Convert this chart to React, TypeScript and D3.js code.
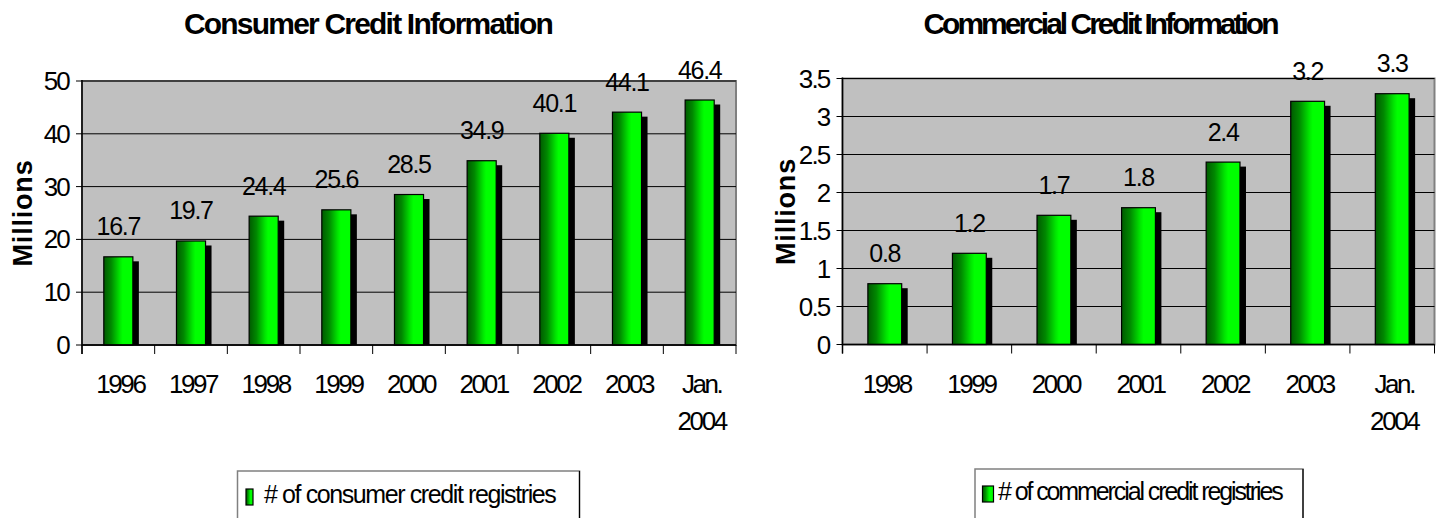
import React from "react";
import * as d3 from "d3";

const consumerCategories = ["1996", "1997", "1998", "1999", "2000", "2001", "2002", "2003", "Jan.\n2004"];
const consumerValues = [16.7, 19.7, 24.4, 25.6, 28.5, 34.9, 40.1, 44.1, 46.4];
const consumerTicks = [0, 10, 20, 30, 40, 50];

const commercialCategories = ["1998", "1999", "2000", "2001", "2002", "2003", "Jan.\n2004"];
const commercialValues = [0.8, 1.2, 1.7, 1.8, 2.4, 3.2, 3.3];
const commercialTicks = [0, 0.5, 1, 1.5, 2, 2.5, 3, 3.5];

const FONT = "Arial, 'Liberation Sans', sans-serif";

type ChartProps = {
  title: string;
  titleX: number;
  titleSpacing: number;
  categories: string[];
  values: number[];
  ticks: number[];
  left: number;
  right: number;
  top: number;
  bottom: number;
  axisLabelX: number;
  legendLabel: string;
  legendSpacing: number;
  legendBox: { x: number; y: number; w: number };
  swatch: { x: number; y: number; w: number; h: number };
  legendTextX: number;
  legendBaseline: number;
  id: string;
};

function Chart(p: ChartProps) {
  const x = d3.scaleBand<string>().domain(p.categories).range([p.left, p.right]).padding(0);
  const y = d3.scaleLinear().domain([0, p.ticks[p.ticks.length - 1]]).range([p.bottom, p.top]);
  const bw = x.bandwidth() * 0.4;
  const fmt = d3.format("");
  return (
    <g>
      <defs>
        <linearGradient id={p.id} x1="0" x2="1" y1="0" y2="0">
          <stop offset="0%" stopColor="#005a00" />
          <stop offset="25%" stopColor="#008800" />
          <stop offset="55%" stopColor="#00e600" />
          <stop offset="65%" stopColor="#00ff00" />
          <stop offset="100%" stopColor="#00ff00" />
        </linearGradient>
      </defs>
      <text x={p.titleX} y={34} textAnchor="middle" fontFamily={FONT} fontWeight="bold" fontSize={30} letterSpacing={p.titleSpacing}>
        {p.title}
      </text>
      <rect x={p.left} y={p.top} width={p.right - p.left} height={p.bottom - p.top} fill="#c0c0c0" stroke="#808080" strokeWidth={2} />
      {p.ticks.map((t) => (
        <g key={t}>
          <line x1={p.left} x2={p.right} y1={y(t)} y2={y(t)} stroke="#000" strokeWidth={1} />
          <line x1={p.left - 6} x2={p.left} y1={y(t)} y2={y(t)} stroke="#000" strokeWidth={1} />
          <text x={p.left - 13} y={y(t) + 9} textAnchor="end" fontFamily={FONT} fontSize={26} letterSpacing={-1.8}>
            {fmt(t)}
          </text>
        </g>
      ))}
      {p.categories.map((c, i) => {
        const cx = (x(c) as number) + x.bandwidth() / 2;
        const v = p.values[i];
        const bx = cx - bw / 2;
        const by = y(v);
        return (
          <g key={c}>
            <rect x={bx + 6} y={by + 4.5} width={bw} height={p.bottom - by - 4.5} fill="#000" />
            <rect x={bx} y={by} width={bw} height={p.bottom - by} fill={`url(#${p.id})`} stroke="#000" strokeWidth={1.2} />
            <text x={cx} y={by - 21.5} textAnchor="middle" fontFamily={FONT} fontSize={25} letterSpacing={-1.3}>
              {v.toFixed(1)}
            </text>
            {c.split("\n").map((line, j) => (
              <text key={j} x={cx + 2} y={393 + j * 37} textAnchor="middle" fontFamily={FONT} fontSize={26} letterSpacing={-2.4}>
                {line}
              </text>
            ))}
          </g>
        );
      })}
      {[...p.categories.map((c) => x(c) as number), p.right].map((tx, i) => (
        <line key={i} x1={tx} x2={tx} y1={p.bottom} y2={p.bottom + 9} stroke="#000" strokeWidth={1} />
      ))}
      <line x1={p.left} x2={p.left} y1={p.top - 1} y2={p.bottom + 9} stroke="#000" strokeWidth={1.5} />
      <line x1={p.left} x2={p.right} y1={p.bottom} y2={p.bottom} stroke="#000" strokeWidth={1.5} />
      <text
        transform={`translate(${p.axisLabelX},${(p.top + p.bottom) / 2}) rotate(-90)`}
        textAnchor="middle"
        fontFamily={FONT}
        fontWeight="bold"
        fontSize={27}
        letterSpacing={0.8}
      >
        Millions
      </text>
      <rect x={p.legendBox.x} y={p.legendBox.y} width={p.legendBox.w} height={80} fill="#fff" stroke="#808080" strokeWidth={1.5} />
      <line x1={p.legendBox.x + p.legendBox.w} x2={p.legendBox.x + p.legendBox.w} y1={p.legendBox.y} y2={530} stroke="#000" strokeWidth={1.2} />
      <rect x={p.swatch.x} y={p.swatch.y} width={p.swatch.w} height={p.swatch.h} fill={`url(#${p.id})`} stroke="#000" strokeWidth={1.2} />
      <text x={p.legendTextX} y={p.legendBaseline} fontFamily={FONT} fontSize={25} letterSpacing={p.legendSpacing}>
        {p.legendLabel}
      </text>
    </g>
  );
}

export default function App() {
  return (
    <svg width={1441} height={518} style={{ position: "absolute", left: 0, top: 0, background: "#fff" }}>
      <rect x={0} y={0} width={1441} height={518} fill="#fff" />
      <Chart
        id="gradA"
        title="Consumer Credit Information"
        titleX={368}
        titleSpacing={-1.8}
        categories={consumerCategories}
        values={consumerValues}
        ticks={consumerTicks}
        left={82}
        right={736}
        top={81}
        bottom={345}
        axisLabelX={32}
        legendLabel="# of consumer credit registries"
        legendSpacing={-1.4}
        legendBox={{ x: 237.5, y: 471, w: 342 }}
        swatch={{ x: 246, y: 489, w: 7, h: 16 }}
        legendTextX={264}
        legendBaseline={503}
      />
      <Chart
        id="gradB"
        title="Commercial Credit Information"
        titleX={1100}
        titleSpacing={-3.0}
        categories={commercialCategories}
        values={commercialValues}
        ticks={commercialTicks}
        left={842.5}
        right={1434.5}
        top={78.5}
        bottom={344.5}
        axisLabelX={795}
        legendLabel="# of commercial credit registries"
        legendSpacing={-2.1}
        legendBox={{ x: 975, y: 469, w: 328 }}
        swatch={{ x: 982.5, y: 486, w: 11, h: 16 }}
        legendTextX={998}
        legendBaseline={500}
      />
    </svg>
  );
}
